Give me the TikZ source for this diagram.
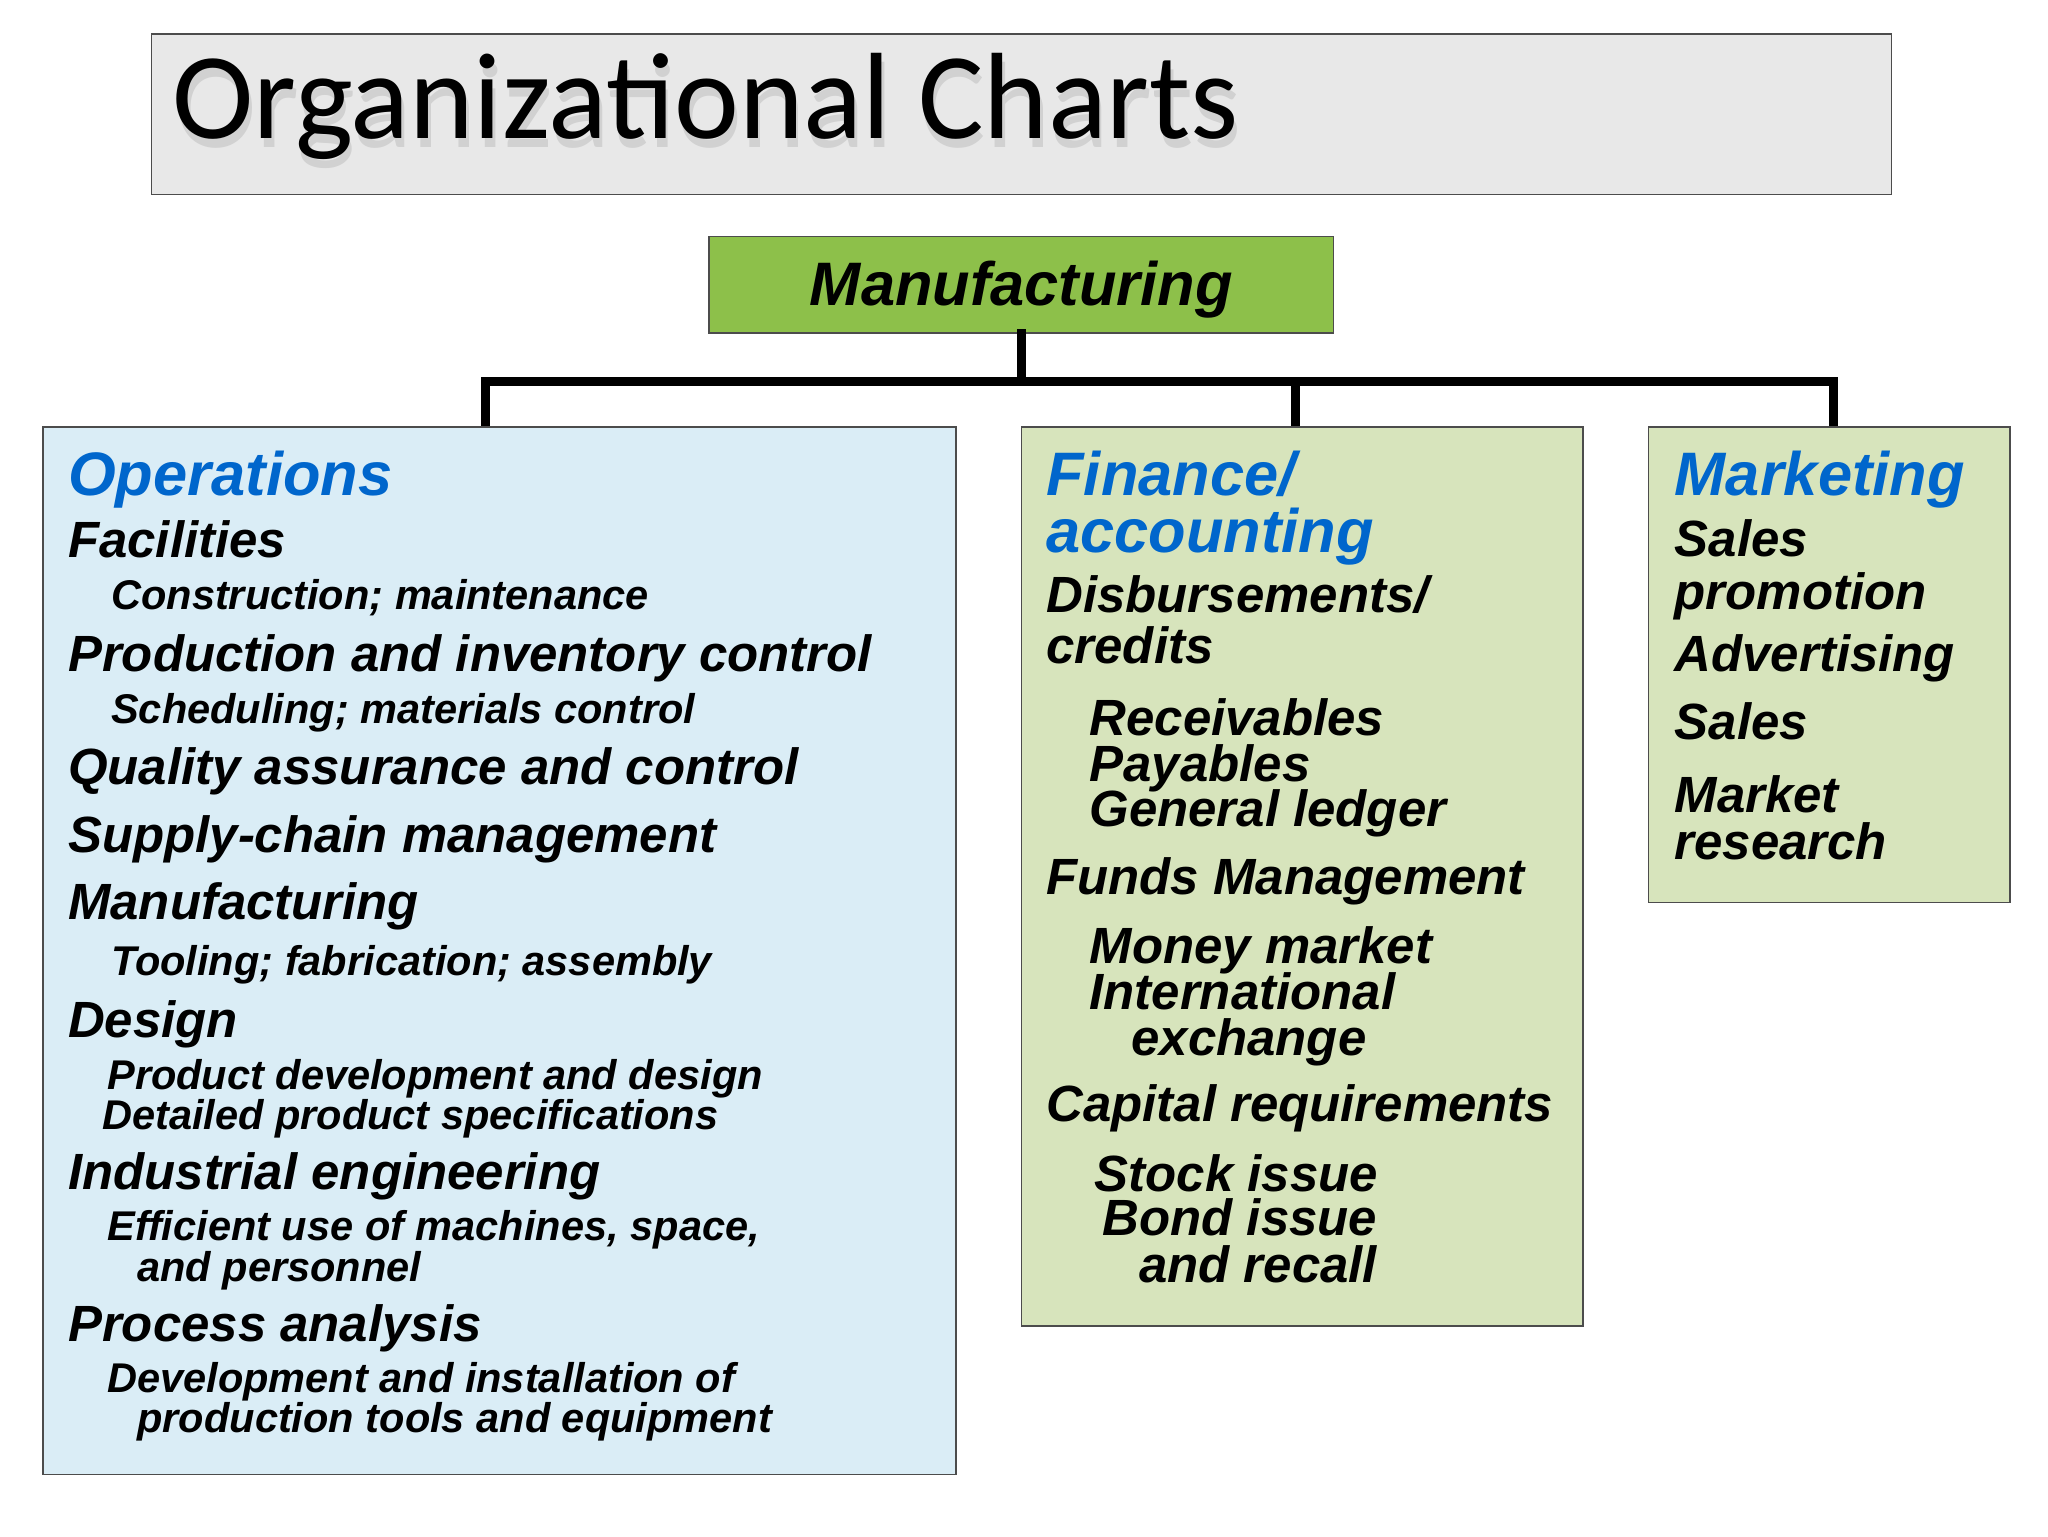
\documentclass[tikz,border=0pt]{standalone}
\usepackage{fontspec}
\setmainfont{Liberation Sans}
\newfontfamily\titlefont{Carlito}
\definecolor{titlegray}{HTML}{E8E8E8}
\definecolor{mgreen}{HTML}{8DC04A}
\definecolor{opsblue}{HTML}{DAEDF6}
\definecolor{fingreen}{HTML}{D7E4BC}
\definecolor{headblue}{HTML}{0066CC}
\begin{document}
\begin{tikzpicture}[x=1pt,y=-1pt,
  boxst/.style={draw=black!70,line width=1.2pt},
  conn/.style={line width=7pt,line cap=rect},
  head/.style={anchor=base west,inner sep=0pt,font=\fontsize{47}{49}\selectfont\bfseries\itshape,text=headblue},
  itm/.style={anchor=base west,inner sep=0pt,font=\fontsize{39}{41}\selectfont\bfseries\itshape},
  sub/.style={anchor=base west,inner sep=0pt,font=\fontsize{31.8}{33}\selectfont\bfseries\itshape}]
\useasboundingbox (0,0) rectangle (1568,1176);
\fill[white] (0,0) rectangle (1568,1176);
% title
\draw[boxst,fill=titlegray] (116,26) rectangle (1448,149);
\node[anchor=base west,inner sep=0pt,text=black!18,font=\titlefont\fontsize{94}{98}\selectfont] (tshadow) at (134,113) {Organizational Charts};
\node[anchor=base west,inner sep=0pt,font=\titlefont\fontsize{94}{98}\selectfont] (title) at (132,106) {Organizational Charts};
% top node
\node[boxst,fill=mgreen,minimum width=478pt,minimum height=74pt,inner sep=0pt] (mf) at (782,218) {};
\node[anchor=base,inner sep=0pt,font=\fontsize{47}{49}\selectfont\bfseries\itshape] (mft) at (782,234) {Manufacturing};
\coordinate (j) at (782,292);
\coordinate (jl) at (372,292);
\coordinate (jm) at (992,292);
\coordinate (jr) at (1404,292);
\coordinate (el) at (372,326);
\coordinate (em) at (992,326);
\coordinate (er) at (1404,326);
\draw[conn] (mf.south) -- (j);
\draw[conn,line join=miter] (el) -- (jl) -- (jr) -- (er);
\draw[conn] (jm) -- (em);
% boxes
\draw[boxst,fill=opsblue] (33,327) rectangle (732,1129);
\draw[boxst,fill=fingreen] (782,327) rectangle (1212,1015);
\draw[boxst,fill=fingreen] (1262,327) rectangle (1539,691);
% operations
\node[head] (o0) at (52,379) {Operations};
\node[itm] (o1) at (52,427) {Facilities};
\node[sub] (o2) at (85,467) {Construction; maintenance};
\node[itm] (o3) at (52,514) {Production and inventory control};
\node[sub] (o4) at (85,554) {Scheduling; materials control};
\node[itm] (o5) at (52,601) {Quality assurance and control};
\node[itm] (o6) at (52,653) {Supply-chain management};
\node[itm] (o7) at (52,704) {Manufacturing};
\node[sub] (o8) at (85,747) {Tooling; fabrication; assembly};
\node[itm] (o9) at (52,794) {Design};
\node[sub] (o10) at (82,834) {Product development and design};
\node[sub] (o11) at (78,865) {Detailed product specifications};
\node[itm] (o12) at (52,911) {Industrial engineering};
\node[sub] (o13) at (82,950) {Efficient use of machines, space,};
\node[sub] (o14) at (105,981) {and personnel};
\node[itm] (o15) at (52,1027) {Process analysis};
\node[sub] (o16) at (82,1066) {Development and installation of};
\node[sub] (o17) at (105,1097) {production tools and equipment};
% finance
\node[head] (f0) at (801,379) {Finance/};
\node[head] (f1) at (801,423) {accounting};
\node[itm] (f2) at (801,469) {Disbursements/};
\node[itm] (f3) at (801,508) {credits};
\node[itm] (f4) at (834,563) {Receivables};
\node[itm] (f5) at (834,598) {Payables};
\node[itm] (f6) at (834,633) {General ledger};
\node[itm] (f7) at (801,685) {Funds Management};
\node[itm] (f8) at (834,738) {Money market};
\node[itm] (f9) at (834,773) {International};
\node[itm] (f10) at (866,808) {exchange};
\node[itm] (f11) at (801,859) {Capital requirements};
\node[itm] (f12) at (838,912) {Stock issue};
\node[itm] (f13) at (844,946) {Bond issue};
\node[itm] (f14) at (872,982) {and recall};
% marketing
\node[head] (m0) at (1282,379) {Marketing};
\node[itm] (m1) at (1282,426) {Sales};
\node[itm] (m2) at (1282,467) {promotion};
\node[itm] (m3) at (1282,514) {Advertising};
\node[itm] (m4) at (1282,566) {Sales};
\node[itm] (m5) at (1282,622) {Market};
\node[itm] (m6) at (1282,658) {research};
\end{tikzpicture}
\end{document}
